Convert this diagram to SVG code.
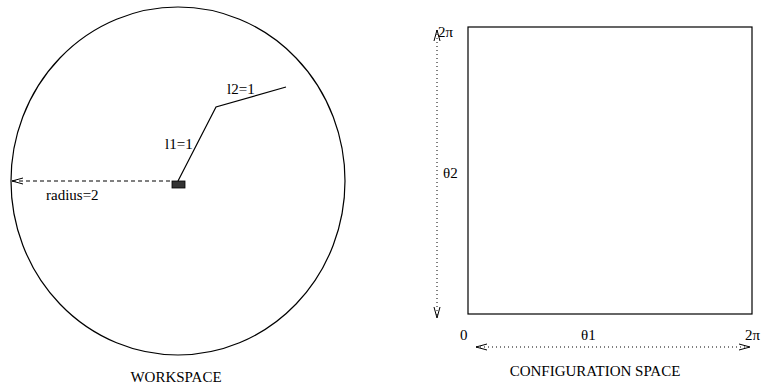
<svg xmlns="http://www.w3.org/2000/svg" width="761" height="385" viewBox="0 0 761 385">
<style>
text{font-family:"Liberation Serif","Times New Roman",serif;font-size:15px;fill:#000}
.ln{stroke:#000;stroke-width:1.2;fill:none}
.dash{stroke:#000;stroke-width:1;fill:none;stroke-dasharray:4,3}
.dot{stroke:#000;stroke-width:1;fill:none;stroke-dasharray:1,3}
</style>
<defs>
<marker id="open" viewBox="0 0 12 10" refX="11" refY="5" markerWidth="12" markerHeight="10" markerUnits="userSpaceOnUse" orient="auto-start-reverse">
<path d="M0,2 L11,5 L0,8" fill="none" stroke="#000" stroke-width="1"/>
</marker>
</defs>
<g id="workspace">
<ellipse cx="178" cy="181" rx="167" ry="174" class="ln"/>
<text x="176" y="382" text-anchor="middle">WORKSPACE</text>
</g>
<g id="base"><rect x="172" y="181" width="13" height="7" fill="#333" stroke="#000" stroke-width="0.8"/></g>
<g id="config">
<rect x="468" y="27" width="284" height="287" class="ln"/>
<text x="595" y="376" text-anchor="middle">CONFIGURATION SPACE</text>
</g>
<g id="connectors">
<line x1="12" y1="181" x2="172" y2="181" class="dash" marker-start="url(#open)"/>
<polyline points="178,181 216,107 286,87" class="ln"/>
<line x1="437" y1="30" x2="437" y2="318" class="dot" marker-start="url(#open)" marker-end="url(#open)"/>
<line x1="476" y1="347" x2="750" y2="347" class="dot" marker-start="url(#open)" marker-end="url(#open)"/>
</g>
<g id="labels">
<text x="46" y="200">radius=2</text>
<text x="165" y="149">l1=1</text>
<text x="227" y="94">l2=1</text>
<text x="438" y="37">2π</text>
<text x="443" y="178">θ2</text>
<text x="460" y="340">0</text>
<text x="581" y="340">θ1</text>
<text x="745" y="340">2π</text>
</g>
</svg>
